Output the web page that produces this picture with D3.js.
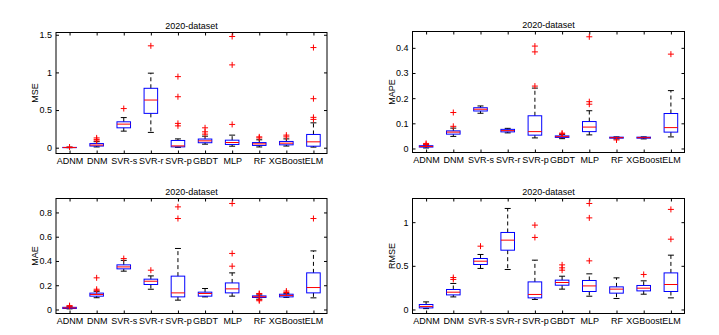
<!DOCTYPE html>
<html>
<head>
<meta charset="utf-8">
<script src="https://cdn.jsdelivr.net/npm/d3@7"></script>
<style>
  body { margin: 0; background: #fff; }
  text { font-family: "Liberation Sans", Arial, sans-serif; }
</style>
</head>
<body>
<script>
const categories = ["ADNM", "DNM", "SVR-s", "SVR-r", "SVR-p", "GBDT", "MLP", "RF", "XGBoost", "ELM"];

// each row: [lower whisker, q1, median, q3, upper whisker]
const mseBoxes = [
  [0, 0.001, 0.002, 0.004, 0.007],
  [0.01, 0.022, 0.035, 0.055, 0.08],
  [0.22, 0.264, 0.313, 0.344, 0.40],
  [0.203, 0.456, 0.633, 0.789, 0.99],
  [0.005, 0.011, 0.024, 0.096, 0.117],
  [0.047, 0.066, 0.091, 0.115, 0.153],
  [0.02, 0.043, 0.069, 0.10, 0.167],
  [0.01, 0.03, 0.051, 0.068, 0.105],
  [0.022, 0.038, 0.06, 0.083, 0.117],
  [0.008, 0.02, 0.078, 0.176, 0.33]
];
const mseOutliers = [
  [0.009], [0.09, 0.11, 0.13], [0.52], [1.353], [0.944, 0.677, 0.323, 0.29],
  [0.264, 0.211, 0.18], [1.477, 1.1, 0.309], [0.13, 0.144], [0.144, 0.167], [1.33, 0.651, 0.403, 0.376]
];

const mapeBoxes = [
  [0.002, 0.0055, 0.008, 0.011, 0.014],
  [0.048, 0.057, 0.065, 0.07, 0.081],
  [0.14, 0.149, 0.156, 0.162, 0.169],
  [0.062, 0.066, 0.071, 0.076, 0.08],
  [0.042, 0.053, 0.067, 0.13, 0.24],
  [0.039, 0.044, 0.047, 0.05, 0.056],
  [0.054, 0.067, 0.085, 0.107, 0.15],
  [0.038, 0.041, 0.043, 0.045, 0.046],
  [0.038, 0.041, 0.043, 0.045, 0.046],
  [0.046, 0.065, 0.083, 0.139, 0.23]
];
const mapeOutliers = [
  [0.016, 0.02], [0.088, 0.143], [], [], [0.407, 0.384, 0.248],
  [0.058, 0.061], [0.444, 0.186, 0.176], [0.034], [], [0.375]
];

const maeBoxes = [
  [0.005, 0.008, 0.013, 0.018, 0.022],
  [0.097, 0.11, 0.124, 0.135, 0.15],
  [0.316, 0.335, 0.351, 0.368, 0.405],
  [0.167, 0.206, 0.233, 0.25, 0.277],
  [0.077, 0.104, 0.137, 0.275, 0.503],
  [0.104, 0.11, 0.132, 0.143, 0.173],
  [0.11, 0.137, 0.17, 0.219, 0.302],
  [0.085, 0.099, 0.105, 0.112, 0.12],
  [0.1, 0.104, 0.116, 0.126, 0.13],
  [0.096, 0.137, 0.181, 0.302, 0.483]
];
const maeOutliers = [
  [0.027, 0.032], [0.261, 0.167, 0.155], [0.42], [0.324], [0.846, 0.75],
  [], [0.874, 0.462, 0.357], [0.072, 0.08, 0.128, 0.132], [0.14, 0.152], [0.75]
];

const rmseBoxes = [
  [0.01, 0.018, 0.035, 0.057, 0.087],
  [0.144, 0.167, 0.198, 0.229, 0.298],
  [0.47, 0.515, 0.553, 0.584, 0.63],
  [0.458, 0.679, 0.794, 0.882, 1.157],
  [0.115, 0.133, 0.172, 0.316, 0.565],
  [0.233, 0.278, 0.309, 0.336, 0.381],
  [0.152, 0.206, 0.27, 0.332, 0.408],
  [0.126, 0.187, 0.233, 0.259, 0.362],
  [0.175, 0.213, 0.244, 0.275, 0.328],
  [0.133, 0.206, 0.286, 0.419, 0.622]
];
const rmseOutliers = [
  [], [0.344, 0.366], [0.725], [], [0.966, 0.825],
  [0.45, 0.477, 0.511], [1.214, 1.049, 0.557], [], [0.401], [1.146, 0.805]
];

const mseTicks = [0, 0.5, 1, 1.5];
const mapeTicks = [0, 0.1, 0.2, 0.3, 0.4];
const maeTicks = [0, 0.2, 0.4, 0.6, 0.8];
const rmseTicks = [0, 0.5, 1];

const width = 719, height = 335;

const svg = d3.select("body").append("svg")
    .attr("width", width)
    .attr("height", height);

// panel frames, in pixels
const panels = [
  {label: "MSE", boxes: mseBoxes, outliers: mseOutliers, ticks: mseTicks, yDomain: [-0.077, 1.53], left: 56, right: 327, top: 32.5, bottom: 153.5},
  {label: "MAPE", boxes: mapeBoxes, outliers: mapeOutliers, ticks: mapeTicks, yDomain: [-0.016, 0.465], left: 412.5, right: 684.5, top: 31.5, bottom: 152.5},
  {label: "MAE", boxes: maeBoxes, outliers: maeOutliers, ticks: maeTicks, yDomain: [-0.033, 0.915], left: 56, right: 327, top: 198.5, bottom: 313.5},
  {label: "RMSE", boxes: rmseBoxes, outliers: rmseOutliers, ticks: rmseTicks, yDomain: [-0.046, 1.271], left: 412.5, right: 684.5, top: 198.5, bottom: 313.5}
];

panels.forEach(drawPanel);

function drawPanel(p) {
  const x = d3.scaleLinear().domain([0.5, 10.5]).range([p.left, p.right]);
  const y = d3.scaleLinear().domain(p.yDomain).range([p.bottom, p.top]);
  const boxW = 0.25, capW = 0.11;

  const g = svg.append("g");

  // axes (ticks point inward, like matlab)
  const fmt = d => String(d);
  g.append("g")
      .attr("transform", `translate(${p.left},0)`)
      .call(d3.axisLeft(y).tickValues(p.ticks).tickFormat(fmt).tickSize(-3).tickSizeOuter(0).tickPadding(4));
  g.append("g")
      .attr("transform", `translate(${p.right},0)`)
      .call(d3.axisRight(y).tickValues(p.ticks).tickFormat("").tickSize(-3).tickSizeOuter(0));
  g.append("g")
      .attr("transform", `translate(0,${p.bottom})`)
      .call(d3.axisBottom(x).tickValues(d3.range(1, 11)).tickFormat(i => categories[i - 1]).tickSize(-3).tickSizeOuter(0).tickPadding(4));
  g.append("g")
      .attr("transform", `translate(0,${p.top})`)
      .call(d3.axisTop(x).tickValues(d3.range(1, 11)).tickFormat("").tickSize(-3).tickSizeOuter(0));

  g.selectAll(".domain").remove();
  g.selectAll(".tick line").attr("stroke", "#000");
  g.selectAll(".tick text").attr("font-size", 9).attr("fill", "#000")
      .attr("font-family", '"Liberation Sans", Arial, sans-serif');

  g.append("rect")
      .attr("x", p.left).attr("y", p.top)
      .attr("width", p.right - p.left).attr("height", p.bottom - p.top)
      .attr("fill", "none").attr("stroke", "#000");

  g.append("text")
      .attr("x", (p.left + p.right) / 2).attr("y", p.top - 4)
      .attr("text-anchor", "middle").attr("font-size", 9)
      .text("2020-dataset");

  g.append("text")
      .attr("transform", `translate(${p.left - 18},${(p.top + p.bottom) / 2}) rotate(-90)`)
      .attr("text-anchor", "middle").attr("font-size", 9)
      .text(p.label);

  const box = g.selectAll(".bx")
    .data(p.boxes)
    .join("g")
      .attr("class", "bx");

  // whiskers
  box.append("line")
      .attr("x1", (d, i) => x(i + 1)).attr("x2", (d, i) => x(i + 1))
      .attr("y1", d => y(d[3])).attr("y2", d => y(d[4]))
      .attr("stroke", "#000").attr("stroke-dasharray", "4,3");
  box.append("line")
      .attr("x1", (d, i) => x(i + 1)).attr("x2", (d, i) => x(i + 1))
      .attr("y1", d => y(d[1])).attr("y2", d => y(d[0]))
      .attr("stroke", "#000").attr("stroke-dasharray", "4,3");

  // caps
  for (const k of [0, 4]) {
    box.append("line")
        .attr("x1", (d, i) => x(i + 1 - capW)).attr("x2", (d, i) => x(i + 1 + capW))
        .attr("y1", d => y(d[k])).attr("y2", d => y(d[k]))
        .attr("stroke", "#000");
  }

  box.append("rect")
      .attr("x", (d, i) => x(i + 1 - boxW))
      .attr("width", x(1 + boxW) - x(1 - boxW))
      .attr("y", d => y(d[3]))
      .attr("height", d => y(d[1]) - y(d[3]))
      .attr("fill", "none").attr("stroke", "#0000ff");

  box.append("line")
      .attr("x1", (d, i) => x(i + 1 - boxW)).attr("x2", (d, i) => x(i + 1 + boxW))
      .attr("y1", d => y(d[2])).attr("y2", d => y(d[2]))
      .attr("stroke", "#ff0000");

  const pts = p.outliers.flatMap((o, i) => o.map(v => ({i, v})));
  g.selectAll(".ol")
    .data(pts)
    .join("path")
      .attr("class", "ol")
      .attr("transform", d => `translate(${x(d.i + 1)},${y(d.v)})`)
      .attr("d", "M-3,0H3M0,-3V3")
      .attr("stroke", "#ff0000")
      .attr("fill", "none");
}
</script>
</body>
</html>
